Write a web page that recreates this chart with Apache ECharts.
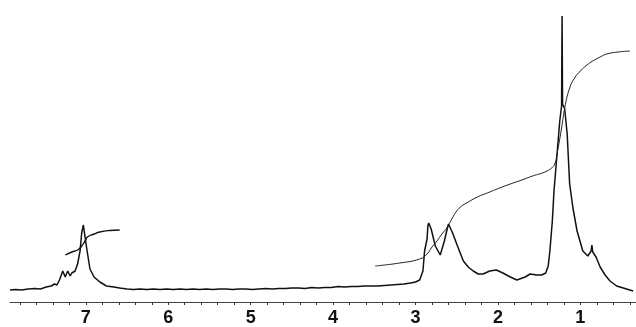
<!DOCTYPE html>
<html>
<head>
<meta charset="utf-8">
<script src="https://cdn.jsdelivr.net/npm/echarts@6/dist/echarts.min.js"></script>
<style>
  html, body { margin: 0; padding: 0; background: #fff; }
  #chart { width: 636px; height: 327px; }
</style>
</head>
<body>
<div id="chart"></div>
<script>
// chemical shift (ppm) and intensity
var specPpm = [7.92, 7.85, 7.78, 7.70, 7.62, 7.55, 7.48, 7.42, 7.38, 7.35, 7.32, 7.28, 7.25, 7.23, 7.22, 7.19, 7.17, 7.13, 7.10, 7.07, 7.05, 7.03, 7.02, 7.01, 6.99, 6.95, 6.90, 6.83, 6.75, 6.66, 6.59,
  6.50, 6.42, 6.34, 6.26, 6.18, 6.10, 6.02, 5.94, 5.86, 5.78, 5.70, 5.62, 5.54, 5.46, 5.38, 5.30, 5.22, 5.14, 5.06, 4.98, 4.90, 4.82, 4.74, 4.66, 4.58, 4.50, 4.42, 4.34, 4.26, 4.18, 4.10, 4.02, 3.94, 3.86, 3.78, 3.70, 3.62, 3.54, 3.46, 3.38, 3.30, 3.22, 3.14, 3.06, 3.00, 2.95,
  2.91, 2.89, 2.86, 2.85, 2.84, 2.83, 2.81, 2.76, 2.70, 2.65, 2.61, 2.60, 2.59, 2.58, 2.55, 2.50, 2.42, 2.36, 2.30, 2.24, 2.18, 2.10, 2.02, 1.94, 1.85, 1.77, 1.67, 1.61, 1.53, 1.47, 1.42,
  1.39, 1.37, 1.34, 1.32, 1.28, 1.25, 1.228, 1.222, 1.216, 1.19, 1.16, 1.13, 1.09, 1.04, 0.97, 0.91, 0.87, 0.86, 0.85, 0.81, 0.76, 0.70, 0.64, 0.56, 0.48, 0.36];
var specInt = [12, 12.5, 12, 13, 13.5, 13, 15, 16, 18, 17, 22, 31, 25, 23, 31, 26, 29, 31, 38, 51, 69, 77, 79, 77, 54, 33, 25, 20, 16, 15, 14,
  13, 12.5, 13, 12.5, 13, 12.5, 13, 12.5, 13, 12.5, 13, 12.5, 13, 12.5, 13, 13, 12.5, 13, 13, 12.5, 13, 13.5, 13, 13.5, 13.5, 14, 14, 13.5, 14.5, 14, 14.5, 14.5, 15.5, 15, 15.5, 15.5, 16, 16, 16, 16.5, 17, 17.5, 18, 19, 20, 22,
  31, 51, 63, 76, 79, 77, 73, 56, 47, 61, 75, 78, 78, 76, 69, 58, 41, 35, 31, 28, 28, 31, 32, 29, 25, 22, 25, 28, 27, 27, 29,
  36, 51, 81, 111, 151, 181, 196, 286, 198, 193, 168, 118, 94, 71, 51, 46, 51, 57, 50, 45, 35, 27, 21, 16, 14, 11];

// integral traces
var int1Ppm = [7.25, 7.17, 7.10, 7.05, 7.01, 6.98, 6.90, 6.83, 6.71, 6.59];
var int1Val = [47, 50, 52, 56, 61, 65, 68, 70, 71.5, 72];
var int2Ppm = [3.49, 3.19, 2.95, 2.86, 2.80, 2.74, 2.68, 2.62, 2.56, 2.50, 2.44, 2.38, 2.25, 2.13, 1.98, 1.85, 1.71, 1.58, 1.43, 1.35, 1.31, 1.27, 1.22, 1.19, 1.13, 1.07, 1.00, 0.92, 0.85, 0.76, 0.68, 0.54, 0.40];
var int2Val = [36, 39, 43, 48, 55, 61, 68, 74, 83, 91, 96, 99, 105, 109, 114, 118, 122, 126, 130, 134, 138, 154, 178, 194, 214, 224, 231, 237, 241, 245, 248, 250, 251];

var tickLabels = [1, 2, 3, 4, 5, 6, 7];
var minorTicks = [0.4, 0.6, 0.8, 1, 1.2, 1.4, 1.6, 1.8, 2, 2.2, 2.4, 2.6, 2.8, 3, 3.2, 3.4, 3.6, 3.8, 4, 4.2, 4.4, 4.6, 4.8, 5, 5.2, 5.4, 5.6, 5.8, 6, 6.2, 6.4, 6.6, 6.8, 7, 7.2, 7.4, 7.6, 7.8];

function pairs(xs, ys) {
  return xs.map(function (x, i) { return [x, ys[i]]; });
}

var myChart = echarts.init(document.getElementById('chart'));
var option = {
  backgroundColor: '#fff',
  animation: false,
  grid: { left: 10, right: 0, top: 10, bottom: 25 },
  xAxis: {
    type: 'value',
    inverse: true,
    min: 0.325,
    max: 7.92,
    axisLine: { show: true, lineStyle: { color: '#444', width: 1 } },
    axisTick: { show: true, customValues: minorTicks, length: 3, lineStyle: { color: '#333' } },
    axisLabel: {
      customValues: tickLabels,
      color: '#111',
      fontFamily: 'Liberation Sans',
      fontWeight: 'bold',
      fontSize: 18,
      margin: 7
    },
    splitLine: { show: false }
  },
  yAxis: {
    type: 'value',
    min: 0,
    max: 292,
    show: false
  },
  series: [
    {
      type: 'line',
      data: pairs(specPpm, specInt),
      showSymbol: false,
      lineStyle: { color: '#111', width: 1.5 }
    },
    {
      type: 'line',
      data: pairs(int1Ppm, int1Val),
      showSymbol: false,
      smooth: true,
      lineStyle: { color: '#111', width: 1.4 }
    },
    {
      type: 'line',
      data: pairs(int2Ppm, int2Val),
      showSymbol: false,
      smooth: true,
      lineStyle: { color: '#222', width: 1 }
    }
  ]
};
myChart.setOption(option);
</script>
</body>
</html>
